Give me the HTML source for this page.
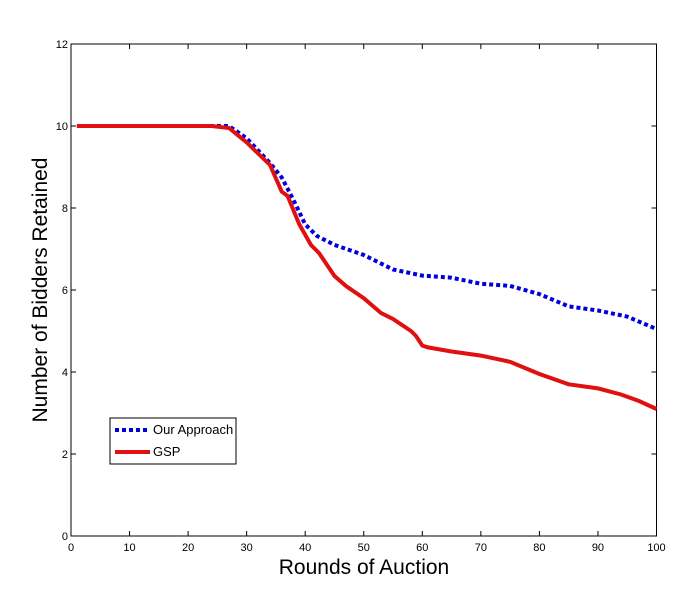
<!DOCTYPE html>
<html><head><style>body{margin:0;background:#fff}svg{display:block}text{font-family:"Liberation Sans",Arial,sans-serif}</style></head><body>
<svg width="687" height="606" viewBox="0 0 687 606">
<g transform="translate(71,536)">
<!-- x scale 5.855 per unit, y scale -41 per unit -->
<g stroke="#000" stroke-width="1" fill="none">
<rect x="0" y="-492" width="585.5" height="492"/>
</g>
<g stroke="#000" stroke-width="1">
<line x1="58.55" y1="0" x2="58.55" y2="-5"/><line x1="117.1" y1="0" x2="117.1" y2="-5"/><line x1="175.65" y1="0" x2="175.65" y2="-5"/><line x1="234.2" y1="0" x2="234.2" y2="-5"/><line x1="292.75" y1="0" x2="292.75" y2="-5"/><line x1="351.3" y1="0" x2="351.3" y2="-5"/><line x1="409.85" y1="0" x2="409.85" y2="-5"/><line x1="468.4" y1="0" x2="468.4" y2="-5"/><line x1="526.95" y1="0" x2="526.95" y2="-5"/>
<line x1="58.55" y1="-492" x2="58.55" y2="-487"/><line x1="117.1" y1="-492" x2="117.1" y2="-487"/><line x1="175.65" y1="-492" x2="175.65" y2="-487"/><line x1="234.2" y1="-492" x2="234.2" y2="-487"/><line x1="292.75" y1="-492" x2="292.75" y2="-487"/><line x1="351.3" y1="-492" x2="351.3" y2="-487"/><line x1="409.85" y1="-492" x2="409.85" y2="-487"/><line x1="468.4" y1="-492" x2="468.4" y2="-487"/><line x1="526.95" y1="-492" x2="526.95" y2="-487"/>
<line x1="0" y1="-82" x2="5" y2="-82"/><line x1="0" y1="-164" x2="5" y2="-164"/><line x1="0" y1="-246" x2="5" y2="-246"/><line x1="0" y1="-328" x2="5" y2="-328"/><line x1="0" y1="-410" x2="5" y2="-410"/>
<line x1="585.5" y1="-82" x2="580.5" y2="-82"/><line x1="585.5" y1="-164" x2="580.5" y2="-164"/><line x1="585.5" y1="-246" x2="580.5" y2="-246"/><line x1="585.5" y1="-328" x2="580.5" y2="-328"/><line x1="585.5" y1="-410" x2="580.5" y2="-410"/>
</g>
<g font-size="11" text-anchor="middle" fill="#000">
<text x="0" y="15">0</text><text x="58.55" y="15">10</text><text x="117.1" y="15">20</text><text x="175.65" y="15">30</text><text x="234.2" y="15">40</text><text x="292.75" y="15">50</text><text x="351.3" y="15">60</text><text x="409.85" y="15">70</text><text x="468.4" y="15">80</text><text x="526.95" y="15">90</text><text x="585.5" y="15">100</text>
</g>
<g font-size="11" text-anchor="end" fill="#000">
<text x="-3" y="4">0</text><text x="-3" y="-78">2</text><text x="-3" y="-160">4</text><text x="-3" y="-242">6</text><text x="-3" y="-324">8</text><text x="-3" y="-406">10</text><text x="-3" y="-488">12</text>
</g>
<polyline fill="none" stroke="#0000dd" stroke-width="4" stroke-dasharray="4,3" points="5.9,-410 158,-410 175.7,-397.7 199,-373 210.7,-358.5 222.5,-336 234.2,-311.6 246,-300 263.5,-291.1 292.8,-281 322,-266.5 351.3,-260.4 380.6,-258.3 409.9,-252.2 439.1,-250.1 468.4,-241.9 497.7,-229.6 527,-225.5 556.2,-219.4 585.5,-207"/>
<polyline fill="none" stroke="#e01010" stroke-width="4" points="5.9,-410 140.5,-410 158,-408 175.7,-393.6 199,-371 210.7,-344.4 216.6,-340 228.3,-311.6 240,-291 248,-283 263.5,-260 275,-250 292.8,-237.8 310,-223 322,-217 340,-205 345,-200 351.3,-190.4 357,-188.6 380.6,-184.5 409.9,-180.4 439,-174.2 468.4,-162 497.7,-151.7 527,-147.6 550,-141.5 568,-135 585.5,-127"/>
</g>
<rect x="110" y="418" width="126" height="46" fill="#fff" stroke="#000" stroke-width="1"/>
<line x1="115" y1="430" x2="150" y2="430" stroke="#0000dd" stroke-width="4" stroke-dasharray="4,3"/>
<line x1="115" y1="452" x2="150" y2="452" stroke="#e01010" stroke-width="4"/>
<text x="153" y="434" font-size="13">Our Approach</text>
<text x="153" y="456" font-size="13">GSP</text>
<text x="364" y="574" font-size="21" text-anchor="middle">Rounds of Auction</text>
<text transform="translate(47,290) rotate(-90)" font-size="21" text-anchor="middle">Number of Bidders Retained</text>
</svg>
</body></html>
